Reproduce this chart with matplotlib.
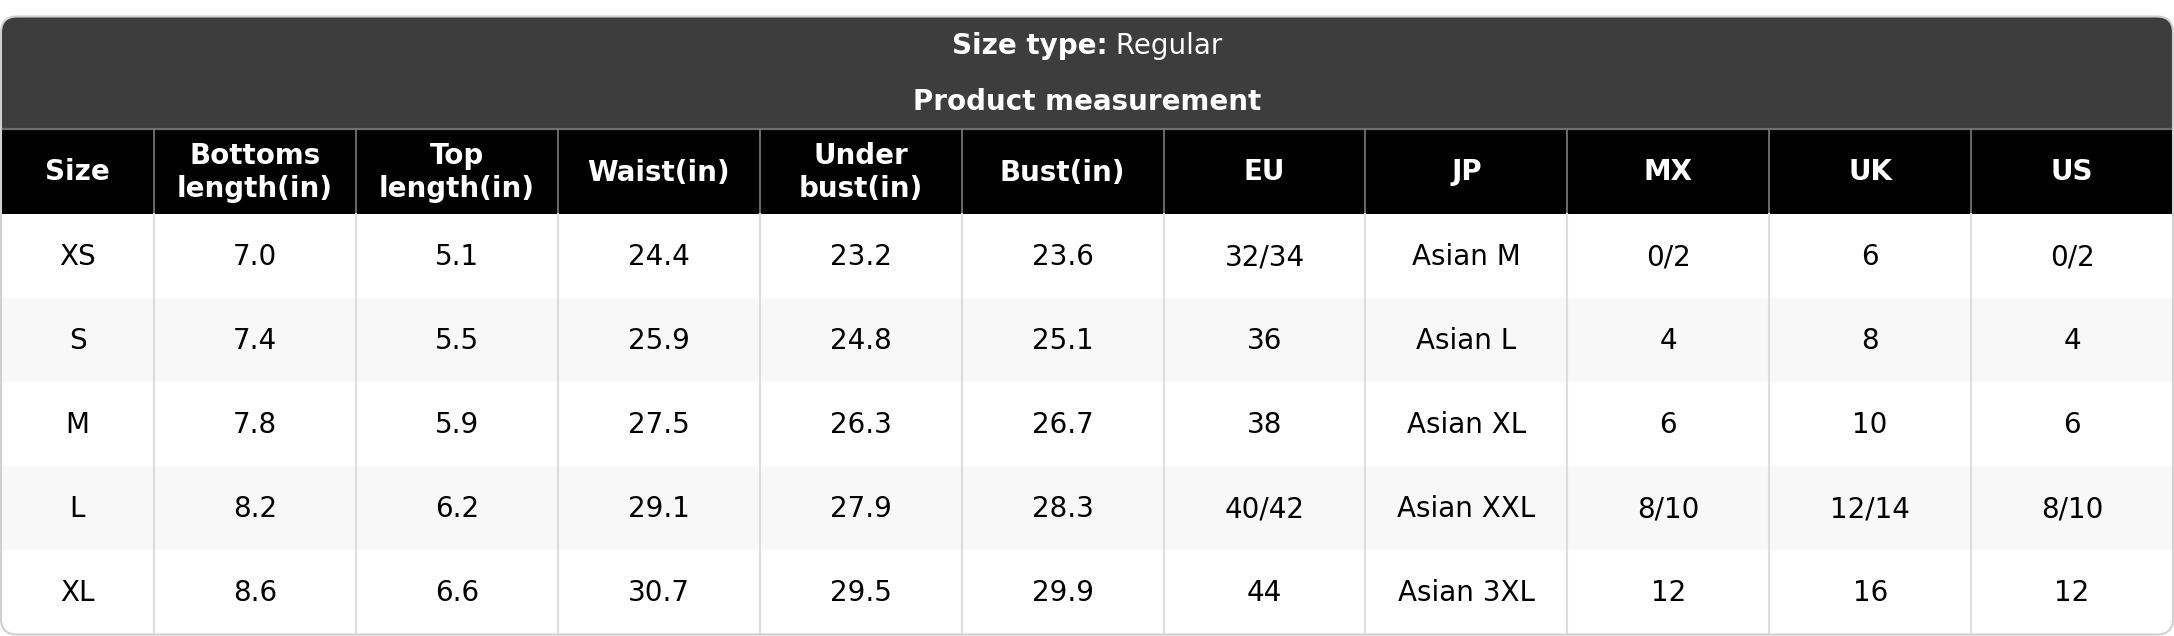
import matplotlib
matplotlib.use("Agg")
import matplotlib.pyplot as plt
from matplotlib.patches import Rectangle, FancyBboxPatch

# data
columns = ["Size", "Bottoms\nlength(in)", "Top\nlength(in)", "Waist(in)", "Under\nbust(in)",
           "Bust(in)", "EU", "JP", "MX", "UK", "US"]
sizes = ["XS", "S", "M", "L", "XL"]
bottoms_length = ["7.0", "7.4", "7.8", "8.2", "8.6"]
top_length = ["5.1", "5.5", "5.9", "6.2", "6.6"]
waist = ["24.4", "25.9", "27.5", "29.1", "30.7"]
under_bust = ["23.2", "24.8", "26.3", "27.9", "29.5"]
bust = ["23.6", "25.1", "26.7", "28.3", "29.9"]
eu = ["32/34", "36", "38", "40/42", "44"]
jp = ["Asian M", "Asian L", "Asian XL", "Asian XXL", "Asian 3XL"]
mx = ["0/2", "4", "6", "8/10", "12"]
uk = ["6", "8", "10", "12/14", "16"]
us = ["0/2", "4", "6", "8/10", "12"]
size_type = "Regular"
subtitle = "Product measurement"

table = [sizes, bottoms_length, top_length, waist, under_bust, bust, eu, jp, mx, uk, us]

W, H = 2174, 636
fig = plt.figure(figsize=(W / 100, H / 100), dpi=100)
ax = fig.add_axes([0, 0, 1, 1])
ax.set_xlim(0, W)
ax.set_ylim(H, 0)
ax.axis('off')

# layout (pixels)
top, left, right, bottom = 16.5, 1, W - 1, H - 1.5
title_h = 112.5
head_h = 85
row_h = (bottom - top - title_h - head_h) / len(sizes)
first_w = 153
col_w = (right - left - first_w) / (len(columns) - 1)
xs = [left, left + first_w] + [left + first_w + col_w * i for i in range(1, len(columns))]

card = FancyBboxPatch((left, top), right - left, bottom - top,
                      boxstyle="round,pad=0,rounding_size=16",
                      fc='white', ec='none', zorder=0)
ax.add_patch(card)

arts = []
arts.append(ax.add_patch(Rectangle((left, top), right - left, title_h, fc='#3d3d3d', ec='none', zorder=1)))
y_head = top + title_h
arts.append(ax.add_patch(Rectangle((left, y_head), right - left, head_h, fc='black', ec='none', zorder=1)))
y0 = y_head + head_h
for i in range(len(sizes)):
    fc = 'white' if i % 2 == 0 else '#f8f8f8'
    arts.append(ax.add_patch(Rectangle((left, y0 + i * row_h), right - left, row_h, fc=fc, ec='none', zorder=1)))

# grid lines
arts.append(ax.plot([left, right], [y_head, y_head], color='#6e6e6e', lw=1.6, zorder=2)[0])
for x in xs[1:-1]:
    arts.append(ax.plot([x, x], [y_head, y0], color='#7a7a7a', lw=1.2, zorder=2)[0])
    arts.append(ax.plot([x, x], [y0, bottom], color='#dddddd', lw=1.5, zorder=2)[0])
for a in arts:
    a.set_clip_path(card)

# border
ax.add_patch(FancyBboxPatch((left, top), right - left, bottom - top,
                            boxstyle="round,pad=0,rounding_size=16",
                            fc='none', ec='#d0d0d0', lw=1.5, zorder=5))

# title texts
fs = 20
t1 = ax.text(0, top + 37, "Size type:", color='white', fontsize=fs, fontweight='bold',
             ha='left', va='baseline', zorder=6)
t2 = ax.text(0, top + 37, " " + size_type, color='white', fontsize=fs,
             ha='left', va='baseline', zorder=6)
r = fig.canvas.get_renderer()
w1 = t1.get_window_extent(r).width
w2 = t2.get_window_extent(r).width
x_start = W / 2 - (w1 + w2) / 2
t1.set_x(x_start)
t2.set_x(x_start + w1)
ax.text(W / 2, top + 93, subtitle, color='white', fontsize=fs, fontweight='bold',
        ha='center', va='baseline', zorder=6)

# header row
for j, name in enumerate(columns):
    cx = (xs[j] + xs[j + 1]) / 2
    ax.text(cx, y_head + head_h / 2 + 1, name, color='white', fontsize=20, fontweight='bold',
            ha='center', va='center', linespacing=1.2, zorder=6)

# data cells
for j, col in enumerate(table):
    cx = (xs[j] + xs[j + 1]) / 2
    for i, val in enumerate(col):
        ax.text(cx, y0 + i * row_h + row_h / 2 + 1, val, color='black', fontsize=20,
                ha='center', va='center', zorder=6)

fig.savefig("out.png", dpi=100)
